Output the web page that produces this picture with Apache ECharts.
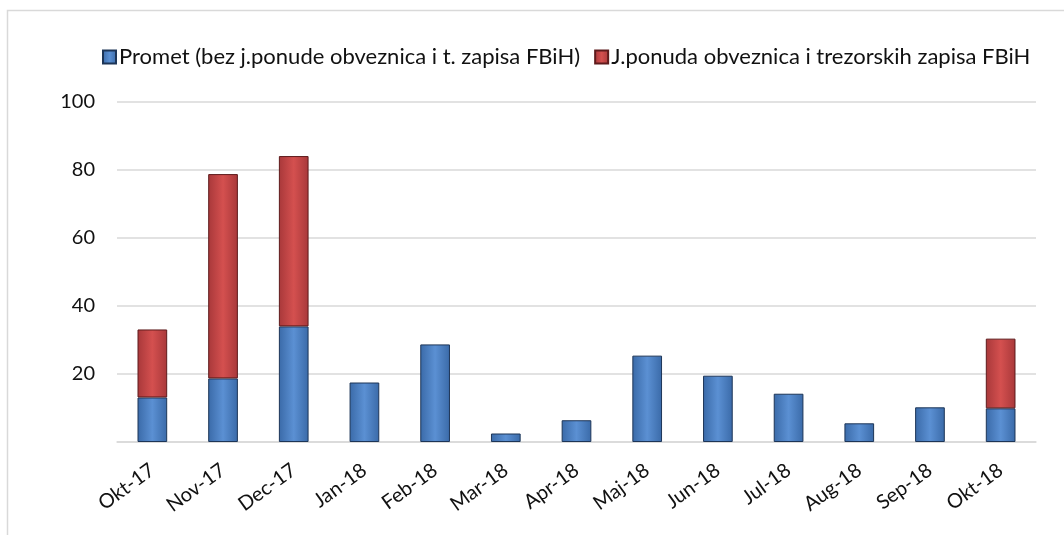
<!DOCTYPE html>
<html>
<head>
<meta charset="utf-8">
<title>Promet</title>
<script src="https://cdn.jsdelivr.net/npm/echarts@6/dist/echarts.min.js"></script>
<style>
  html, body { margin: 0; padding: 0; background: #fff; }
  #main { width: 1064px; height: 535px; }
</style>
</head>
<body>
<div id="main"></div>
<script type="text/javascript">
// kategorije (mjeseci)
var months = ['Okt-17', 'Nov-17', 'Dec-17', 'Jan-18', 'Feb-18', 'Mar-18', 'Apr-18',
              'Maj-18', 'Jun-18', 'Jul-18', 'Aug-18', 'Sep-18', 'Okt-18'];
// promet bez javne ponude
var promet = [13.1, 18.7, 34.0, 17.5, 28.7, 2.5, 6.4, 25.4, 19.5, 14.2, 5.5, 10.2, 9.9];
// javna ponuda obveznica i trezorskih zapisa (0 = nema ponude)
var ponuda = [20.0, 60.1, 50.1, 0, 0, 0, 0, 0, 0, 0, 0, 0, 20.5];
var yTicks = [0, 20, 40, 60, 80, 100];

var fontName = 'Lato, "Open Sans", sans-serif';

function barGrad(edge, mid) {
    return {
        type: 'linear', x: 0, y: 0, x2: 1, y2: 0,
        colorStops: [
            { offset: 0, color: edge },
            { offset: 0.5, color: mid },
            { offset: 1, color: edge }
        ]
    };
}

var chart = echarts.init(document.getElementById('main'), null, { renderer: 'canvas' });

var option = {
    backgroundColor: '#fff',
    animation: false,
    textStyle: { fontFamily: fontName },
    graphic: [{
        type: 'rect',
        shape: { x: 7.5, y: 10.5, width: 1100, height: 560 },
        style: { fill: 'none', stroke: '#d9d9d9', lineWidth: 1.5 },
        silent: true
    }],
    legend: {
        top: 41,
        left: 97,
        icon: 'rect',
        itemWidth: 13,
        itemHeight: 13,
        itemGap: 14,
        textStyle: { fontSize: 22, color: '#111', fontFamily: fontName, padding: [0, 0, 0, -2] }
    },
    grid: { left: 117, right: 28, top: 102, bottom: 93, containLabel: false },
    xAxis: {
        type: 'category',
        data: months,
        axisLine: { lineStyle: { color: '#d9d9d9', width: 1.5 } },
        axisTick: { show: false },
        axisLabel: { rotate: 36, margin: 26, fontSize: 20, color: '#111', fontFamily: fontName, interval: 0 }
    },
    yAxis: {
        type: 'value',
        min: yTicks[0],
        max: yTicks[yTicks.length - 1],
        interval: 20,
        axisLine: { show: false },
        axisTick: { show: false },
        splitLine: { lineStyle: { color: '#d9d9d9', width: 1.5 } },
        axisLabel: {
            margin: 22, fontSize: 20, color: '#111', fontFamily: fontName,
            formatter: function (v) { return v === 0 ? '' : String(v); }
        }
    },
    series: [
        {
            name: 'Promet (bez j.ponude obveznica i t. zapisa FBiH)',
            type: 'bar',
            stack: 'ukupno',
            barWidth: '42%',
            data: promet,
            itemStyle: {
                color: barGrad('#3a6aa8', '#5b90d3'),
                borderColor: '#1d3557',
                borderWidth: 1
            }
        },
        {
            name: 'J.ponuda obveznica i trezorskih zapisa FBiH',
            type: 'bar',
            stack: 'ukupno',
            barWidth: '42%',
            data: ponuda.map(function (v) { return v === 0 ? null : v; }),
            itemStyle: {
                color: barGrad('#a8383a', '#d4504f'),
                borderColor: '#5e1b1c',
                borderWidth: 1
            }
        }
    ]
};

chart.setOption(option);
</script>
</body>
</html>
